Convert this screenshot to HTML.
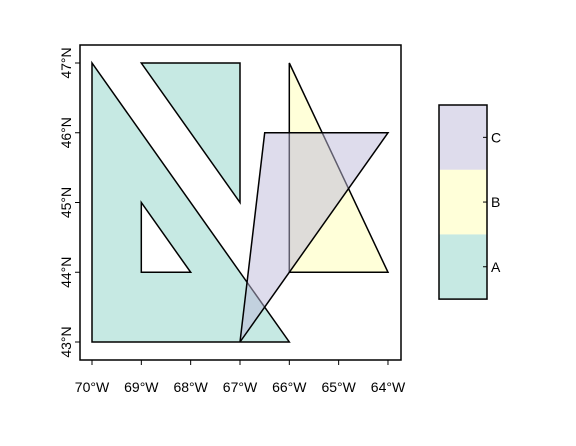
<!DOCTYPE html>
<html><head><meta charset="utf-8"><style>
body{margin:0;background:#fff;}
svg text{font-family:"Liberation Sans",Arial,sans-serif;font-size:14px;fill:#000;}
</style></head><body>
<svg width="576" height="441" xmlns="http://www.w3.org/2000/svg">
<rect width="576" height="441" fill="#fff"/>
<g id="shapes"></g>
<rect x="80" y="45" width="321" height="315" fill="none" stroke="#000" stroke-width="1.5"/>
<g id="axes"></g>
<g id="legend"></g>
</svg>
<script>
const xTicks=[-70,-69,-68,-67,-66,-65,-64];
const xLabels=["70°W","69°W","68°W","67°W","66°W","65°W","64°W"];
const yTicks=[43,44,45,46,47];
const yLabels=["43°N","44°N","45°N","46°N","47°N"];
const categories=["A","B","C"];
const fills=["rgba(141,211,199,0.5)","rgba(255,255,179,0.5)","rgba(190,186,218,0.5)"];
const polyA1=[[-70,47],[-70,43],[-66,43],[-70,47]];
const holeA=[[-69,45],[-69,44],[-68,44],[-69,45]];
const polyA2=[[-69,47],[-67,47],[-67,45],[-69,47]];
const polyB=[[-66,47],[-66,44],[-64,44],[-66,47]];
const polyC=[[-66.5,46],[-64,46],[-67,43],[-66.5,46]];
const NS="http://www.w3.org/2000/svg";
const sx=v=>92+(v+70)*49.33;
const sy=v=>342-(v-43)*69.75;
function ring(r){return "M"+r.map(p=>sx(p[0]).toFixed(1)+","+sy(p[1]).toFixed(1)).join("L")+"Z";}
const g=document.getElementById("shapes");
function addPath(d,fill,name){const p=document.createElementNS(NS,"path");p.setAttribute("d",d);p.setAttribute("fill",fill);p.setAttribute("fill-rule","evenodd");p.setAttribute("stroke","#000");p.setAttribute("stroke-width","1.5");


g.appendChild(p);}
addPath(ring(polyA1)+ring(holeA)+ring(polyA2),fills[0],"region-a");
addPath(ring(polyB),fills[1],"region-b");
addPath(ring(polyC),fills[2],"region-c");
const ax=document.getElementById("axes");
xTicks.forEach((t,i)=>{const l=document.createElementNS(NS,"line");l.setAttribute("x1",sx(t));l.setAttribute("x2",sx(t));l.setAttribute("y1",360);l.setAttribute("y2",365);l.setAttribute("stroke","#000");


ax.appendChild(l);
const tx=document.createElementNS(NS,"text");tx.setAttribute("x",sx(t));tx.setAttribute("y",392);tx.setAttribute("text-anchor","middle");tx.textContent=xLabels[i];


ax.appendChild(tx);});
yTicks.forEach((t,i)=>{const l=document.createElementNS(NS,"line");l.setAttribute("x1",75);l.setAttribute("x2",80);l.setAttribute("y1",sy(t));l.setAttribute("y2",sy(t));l.setAttribute("stroke","#000");


ax.appendChild(l);
const tx=document.createElementNS(NS,"text");tx.setAttribute("transform","translate(71,"+sy(t)+") rotate(-90)");tx.setAttribute("text-anchor","middle");tx.textContent=yLabels[i];


ax.appendChild(tx);});
const lg=document.getElementById("legend");
const keyH=64.7, legTop=105;
categories.forEach((c,i)=>{const y=legTop+(categories.length-1-i)*keyH;
const r=document.createElementNS(NS,"rect");r.setAttribute("x",439);r.setAttribute("y",y);r.setAttribute("width",48);r.setAttribute("height",keyH);r.setAttribute("fill",fills[i]);


lg.appendChild(r);
const l=document.createElementNS(NS,"line");l.setAttribute("x1",483);l.setAttribute("x2",487);l.setAttribute("y1",y+keyH/2);l.setAttribute("y2",y+keyH/2);l.setAttribute("stroke","#000");


lg.appendChild(l);
const t=document.createElementNS(NS,"text");t.setAttribute("x",491);t.setAttribute("y",y+keyH/2+5);t.textContent=c;


lg.appendChild(t);});
const b=document.createElementNS(NS,"rect");b.setAttribute("x",439);b.setAttribute("y",legTop);b.setAttribute("width",48);b.setAttribute("height",keyH*3);b.setAttribute("fill","none");b.setAttribute("stroke","#000");b.setAttribute("stroke-width","1.5");


lg.appendChild(b);
</script>
</body></html>
